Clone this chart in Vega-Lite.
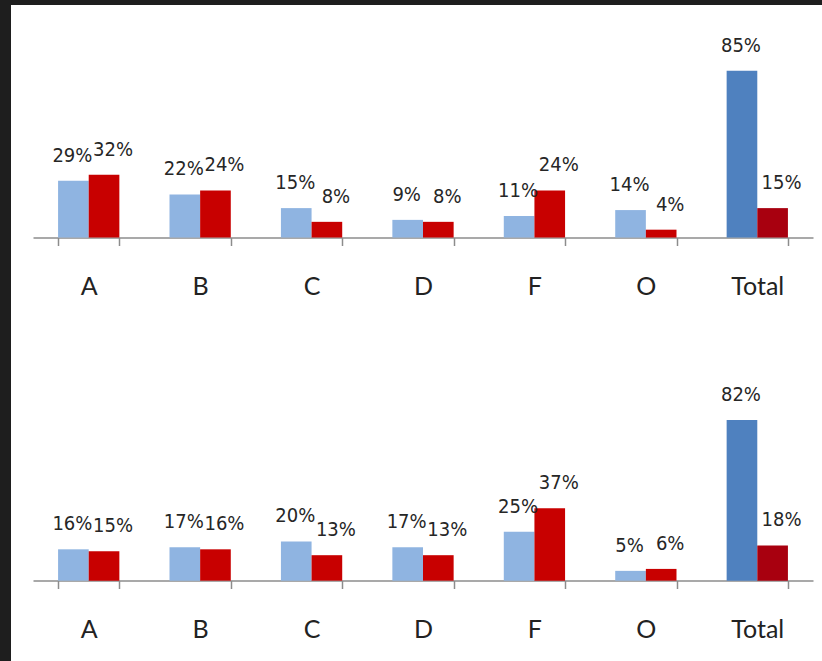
{
  "$schema": "https://vega.github.io/schema/vega-lite/v6.json",
  "background": "#1e1e1e",
  "padding": {"left": 11, "top": 5, "right": 0, "bottom": 0},
  "spacing": 0,
  "config": {
    "view": {"fill": "white", "stroke": null},
    "text": {"font": "DejaVu Sans Condensed", "fontSize": 20, "color": "#262626"}
  },
  "data": {
    "values": [
      {"panel": "top", "cat": "A", "series": "S1", "value": 0.29},
      {"panel": "top", "cat": "A", "series": "S2", "value": 0.32},
      {"panel": "top", "cat": "B", "series": "S1", "value": 0.22},
      {"panel": "top", "cat": "B", "series": "S2", "value": 0.24},
      {"panel": "top", "cat": "C", "series": "S1", "value": 0.15},
      {"panel": "top", "cat": "C", "series": "S2", "value": 0.08},
      {"panel": "top", "cat": "D", "series": "S1", "value": 0.09},
      {"panel": "top", "cat": "D", "series": "S2", "value": 0.08},
      {"panel": "top", "cat": "F", "series": "S1", "value": 0.11},
      {"panel": "top", "cat": "F", "series": "S2", "value": 0.24},
      {"panel": "top", "cat": "O", "series": "S1", "value": 0.14},
      {"panel": "top", "cat": "O", "series": "S2", "value": 0.04},
      {"panel": "top", "cat": "Total", "series": "S1", "value": 0.85},
      {"panel": "top", "cat": "Total", "series": "S2", "value": 0.15},
      {"panel": "bottom", "cat": "A", "series": "S1", "value": 0.16},
      {"panel": "bottom", "cat": "A", "series": "S2", "value": 0.15},
      {"panel": "bottom", "cat": "B", "series": "S1", "value": 0.17},
      {"panel": "bottom", "cat": "B", "series": "S2", "value": 0.16},
      {"panel": "bottom", "cat": "C", "series": "S1", "value": 0.20},
      {"panel": "bottom", "cat": "C", "series": "S2", "value": 0.13},
      {"panel": "bottom", "cat": "D", "series": "S1", "value": 0.17},
      {"panel": "bottom", "cat": "D", "series": "S2", "value": 0.13},
      {"panel": "bottom", "cat": "F", "series": "S1", "value": 0.25},
      {"panel": "bottom", "cat": "F", "series": "S2", "value": 0.37},
      {"panel": "bottom", "cat": "O", "series": "S1", "value": 0.05},
      {"panel": "bottom", "cat": "O", "series": "S2", "value": 0.06},
      {"panel": "bottom", "cat": "Total", "series": "S1", "value": 0.82},
      {"panel": "bottom", "cat": "Total", "series": "S2", "value": 0.18}
    ]
  },
  "transform": [
    {"calculate": "datum.series + (datum.cat === 'Total' ? ' total' : '')", "as": "key"}
  ],
  "vconcat": [
    {
      "width": 811,
      "height": 328,
      "transform": [{"filter": "datum.panel === 'top'"}],
      "encoding": {
        "x": {
          "field": "cat", "type": "nominal", "sort": ["A", "B", "C", "D", "F", "O", "Total"],
          "scale": {"range": [22, 802], "paddingInner": 0.45, "paddingOuter": 0.225},
          "axis": {"title": null, "orient": "bottom", "offset": -95.5, "labelAngle": 0,
            "domainColor": "#8c8c8c", "domainWidth": 1.5, "tickBand": "extent", "tickColor": "#8c8c8c",
            "tickSize": 8, "tickWidth": 1.5, "labelFont": "Lato", "labelFontSize": 25, "labelColor": "#222222",
            "labelPadding": 41, "labelBaseline": "middle"}
        },
        "xOffset": {"field": "series", "type": "nominal", "scale": {"paddingInner": 0, "paddingOuter": 0}},
        "y": {"field": "value", "type": "quantitative", "scale": {"domain": [-0.487, 1.186], "nice": false, "zero": false}, "axis": null}
      },
      "layer": [
        {
          "mark": {"type": "bar"},
          "encoding": {
            "y2": {"datum": 0},
            "color": {"field": "key", "type": "nominal", "legend": null,
              "scale": {"domain": ["S1", "S2", "S1 total", "S2 total"], "range": ["#8fb4e1", "#c80000", "#4f81bf", "#a8000f"]}}
          }
        },
        {
          "transform": [{"filter": "datum.series === 'S1'"}],
          "mark": {"type": "text", "baseline": "alphabetic", "dy": -19, "dx": -1},
          "encoding": {"text": {"field": "value", "type": "quantitative", "format": ".0%"}}
        },
        {
          "transform": [{"filter": "datum.series === 'S2'"}],
          "mark": {"type": "text", "baseline": "alphabetic", "dy": -19, "dx": 9},
          "encoding": {"text": {"field": "value", "type": "quantitative", "format": ".0%"}}
        }
      ]
    },
    {
      "width": 811,
      "height": 328,
      "transform": [{"filter": "datum.panel === 'bottom'"}],
      "encoding": {
        "x": {
          "field": "cat", "type": "nominal", "sort": ["A", "B", "C", "D", "F", "O", "Total"],
          "scale": {"range": [22, 802], "paddingInner": 0.45, "paddingOuter": 0.225},
          "axis": {"title": null, "orient": "bottom", "offset": -80.5, "labelAngle": 0,
            "domainColor": "#8c8c8c", "domainWidth": 1.5, "tickBand": "extent", "tickColor": "#8c8c8c",
            "tickSize": 8, "tickWidth": 1.5, "labelFont": "Lato", "labelFontSize": 25, "labelColor": "#222222",
            "labelPadding": 41, "labelBaseline": "middle"}
        },
        "xOffset": {"field": "series", "type": "nominal", "scale": {"paddingInner": 0, "paddingOuter": 0}},
        "y": {"field": "value", "type": "quantitative", "scale": {"domain": [-0.41, 1.264], "nice": false, "zero": false}, "axis": null}
      },
      "layer": [
        {
          "mark": {"type": "bar"},
          "encoding": {
            "y2": {"datum": 0},
            "color": {"field": "key", "type": "nominal", "legend": null,
              "scale": {"domain": ["S1", "S2", "S1 total", "S2 total"], "range": ["#8fb4e1", "#c80000", "#4f81bf", "#a8000f"]}}
          }
        },
        {
          "transform": [{"filter": "datum.series === 'S1'"}],
          "mark": {"type": "text", "baseline": "alphabetic", "dy": -19, "dx": -1},
          "encoding": {"text": {"field": "value", "type": "quantitative", "format": ".0%"}}
        },
        {
          "transform": [{"filter": "datum.series === 'S2'"}],
          "mark": {"type": "text", "baseline": "alphabetic", "dy": -19, "dx": 9},
          "encoding": {"text": {"field": "value", "type": "quantitative", "format": ".0%"}}
        }
      ]
    }
  ]
}
